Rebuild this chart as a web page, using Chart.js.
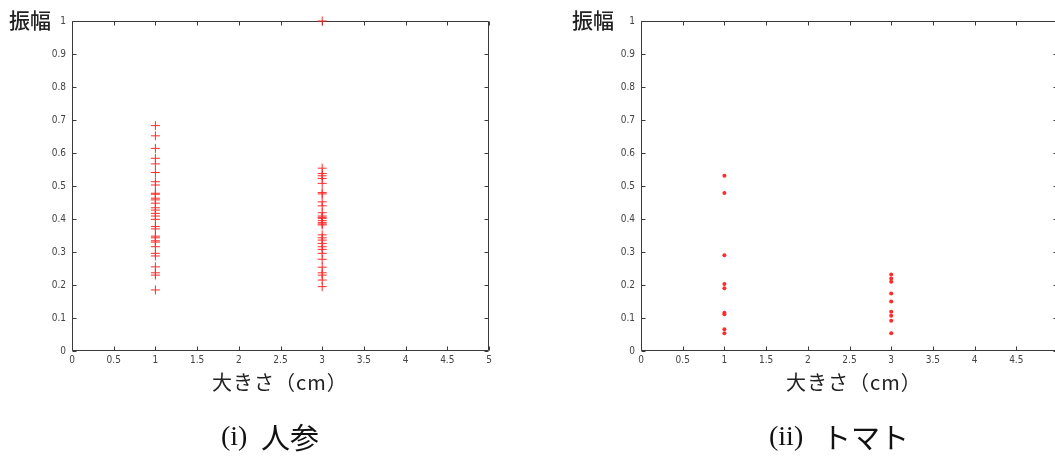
<!DOCTYPE html>
<html><head><meta charset="utf-8">
<script src="https://cdn.jsdelivr.net/npm/chart.js@4/dist/chart.umd.min.js"></script>
<style>
html,body{margin:0;padding:0;background:#fff;width:1055px;height:458px;overflow:hidden;position:relative;}
canvas{position:absolute;top:0;}
.lbl{position:absolute;font-family:"Noto Sans CJK JP","Noto Sans",sans-serif;color:#222;white-space:nowrap;}
.ttl{font-size:21px;font-weight:500;}
.ax{font-size:20px;letter-spacing:1px;}
.cap{position:absolute;font-size:29px;color:#111;white-space:nowrap;font-family:"Noto Sans CJK JP",sans-serif;line-height:40px;top:416px;}
.cap.s{font-family:"Liberation Serif","DejaVu Serif",serif;font-size:28px;}
</style></head>
<body>
<canvas id="c1" width="527" height="400" style="left:0"></canvas>
<canvas id="c2" width="527" height="400" style="left:569px"></canvas>
<div class="lbl ttl" style="left:9px;top:4px;">振幅</div>
<div class="lbl ttl" style="left:572px;top:4px;">振幅</div>
<div class="lbl ax" style="left:212px;top:367px;">大きさ（cm）</div>
<div class="lbl ax" style="left:786px;top:367px;">大きさ（cm）</div>
<div class="cap s" style="left:221px;">(i)</div>
<div class="cap" style="left:261px;">人参</div>
<div class="cap s" style="left:769px;">(ii)</div>
<div class="cap" style="left:822px;">トマト</div>
<script>
// categories (x positions, size in cm)
const sizes = [1, 3];
// carrot amplitudes
const carrotAt1 = [0.683,0.652,0.614,0.584,0.567,0.541,0.513,0.503,0.478,0.475,0.463,0.458,0.448,0.434,0.427,0.417,0.409,0.399,0.377,0.370,0.348,0.343,0.334,0.330,0.316,0.296,0.288,0.255,0.237,0.230,0.185];
const carrotAt3 = [1.0,0.554,0.538,0.531,0.523,0.508,0.480,0.476,0.452,0.440,0.419,0.409,0.405,0.402,0.395,0.389,0.385,0.382,0.352,0.343,0.336,0.326,0.316,0.308,0.296,0.278,0.254,0.237,0.230,0.215,0.195];
// tomato amplitudes
const tomatoAt1 = [0.531,0.479,0.290,0.203,0.190,0.116,0.111,0.066,0.054];
const tomatoAt3 = [0.232,0.220,0.210,0.174,0.150,0.119,0.107,0.092,0.054];
// tick values
const xTicks = [0,0.5,1,1.5,2,2.5,3,3.5,4,4.5,5];
const yTicks = [0,0.1,0.2,0.3,0.4,0.5,0.6,0.7,0.8,0.9,1];

const RED = '#ff2b2b';
const toPts = (x, arr) => arr.map(v => ({x, y: v}));

const frame = {
  id: 'frame',
  beforeDatasetsDraw(chart) {
    const {ctx, chartArea: a, scales: {x, y}} = chart;
    ctx.save();
    ctx.strokeStyle = '#3a3a3a';
    ctx.lineWidth = 1;
    const L = Math.round(a.left) + 0.5, R = Math.round(a.right) - 0.5;
    const T = Math.round(a.top) + 0.5, B = Math.round(a.bottom) - 0.5;
    ctx.beginPath();
    ctx.rect(L, T, R - L, B - T);
    const tl = 4;
    xTicks.forEach(v => {
      const px = Math.round(x.getPixelForValue(v)) + 0.5;
      ctx.moveTo(px, B); ctx.lineTo(px, B - tl);
      ctx.moveTo(px, T); ctx.lineTo(px, T + tl);
    });
    yTicks.forEach(v => {
      const py = Math.round(y.getPixelForValue(v)) + 0.5;
      ctx.moveTo(L, py); ctx.lineTo(L + tl, py);
      ctx.moveTo(R, py); ctx.lineTo(R - tl, py);
    });
    ctx.stroke();
    ctx.restore();
  }
};

const tickFont = {family: "'Liberation Sans Narrow','DejaVu Sans Condensed','Liberation Sans',sans-serif", size: 10};

function makeChart(id, datasets) {
  return new Chart(document.getElementById(id), {
    type: 'scatter',
    data: {datasets},
    options: {
      responsive: false,
      animation: false,
      devicePixelRatio: 1,
      layout: {padding: {left: 0, top: 21, right: 38, bottom: 0}},
      plugins: {legend: {display: false}, tooltip: {enabled: false}},
      scales: {
        x: {
          type: 'linear', min: 0, max: 5,
          afterBuildTicks: s => { s.ticks = xTicks.map(v => ({value: v})); },
          afterFit: s => { s.height = 49; },
          grid: {display: false, drawTicks: false},
          border: {display: false},
          ticks: {padding: 3, color: '#444', font: tickFont, maxRotation: 0, autoSkip: false,
                  callback: v => String(v)}
        },
        y: {
          type: 'linear', min: 0, max: 1,
          afterBuildTicks: s => { s.ticks = yTicks.map(v => ({value: v})); },
          afterFit: s => { s.width = 72; },
          grid: {display: false, drawTicks: false},
          border: {display: false},
          ticks: {padding: 6, color: '#444', font: tickFont, autoSkip: false,
                  callback: v => String(Math.round(v * 10) / 10)}
        }
      }
    },
    plugins: [frame]
  });
}

const crossStyle = {pointStyle: 'cross', pointRadius: 4.5, borderColor: RED, backgroundColor: RED, borderWidth: 1, clip: false};
const dotStyle = {pointStyle: 'circle', pointRadius: 2, borderColor: RED, backgroundColor: RED, borderWidth: 0, clip: false};

makeChart('c1', [
  Object.assign({data: toPts(sizes[0], carrotAt1)}, crossStyle),
  Object.assign({data: toPts(sizes[1], carrotAt3)}, crossStyle)
]);
makeChart('c2', [
  Object.assign({data: toPts(sizes[0], tomatoAt1)}, dotStyle),
  Object.assign({data: toPts(sizes[1], tomatoAt3)}, dotStyle)
]);
</script>
</body></html>
